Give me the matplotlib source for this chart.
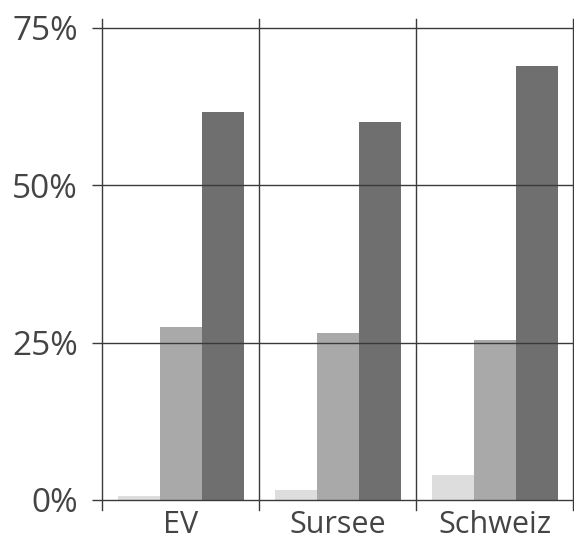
import matplotlib.pyplot as plt
import numpy as np

# Daten
regionen = ['EV', 'Sursee', 'Schweiz']
serie_hell = [0.6, 1.6, 4.0]
serie_mittel = [27.4, 26.5, 25.4]
serie_dunkel = [61.6, 60.0, 69.0]
y_ticks = [0, 25, 50, 75]
y_labels = ['0%', '25%', '50%', '75%']

farben = ['#dddddd', '#a9a9a9', '#6f6f6f']
linie = '#3a3a3a'
text = '#444444'

plt.rcParams['font.family'] = ['Open Sans', 'DejaVu Sans']

fig = plt.figure(figsize=(5.74, 5.40), dpi=100)
ax = fig.add_axes([102 / 574, 30 / 540, 471 / 574, 491.5 / 540])

x = np.arange(len(regionen))
breite = 0.267
for i, werte in enumerate([serie_hell, serie_mittel, serie_dunkel]):
    ax.bar(x + (i - 1) * breite + 0.005, werte, width=breite, color=farben[i],
           linewidth=0, zorder=2)

# Gitter
for y in y_ticks:
    ax.axhline(y, color=linie, linewidth=1.0, zorder=3)
for xv in np.arange(-0.5, len(regionen), 1.0):
    ax.axvline(xv, color=linie, linewidth=1.0, zorder=3, clip_on=False)

ax.set_xlim(-0.5, len(regionen) - 0.5)
ax.set_ylim(-1.6, 76.5)
for s in ax.spines.values():
    s.set_visible(False)

ax.set_yticks(y_ticks)
ax.set_yticklabels(y_labels)
ax.tick_params(axis='y', length=7.2, width=1.0, color=linie, pad=10,
               labelsize=24, labelcolor=text)
ax.set_xticks(x)
ax.set_xticklabels(regionen)
ax.tick_params(axis='x', length=0, pad=0, labelsize=22, labelcolor=text)

fig.savefig('out.png', dpi=100)
